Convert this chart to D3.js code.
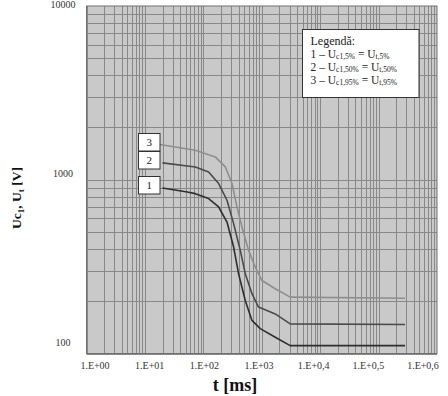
<!DOCTYPE html>
<html>
<head>
<meta charset="utf-8">
<script src="https://cdn.jsdelivr.net/npm/d3@7"></script>
<style>
  body { margin: 0; background: #fff; }
  text { font-family: "Liberation Serif", "DejaVu Serif", serif; }
</style>
</head>
<body>
<script>
// chart size
var w = 448;
var h = 396;

// DATA
var xTickLabels = ["1.E+00", "1.E+01", "1.E+02", "1.E+03", "1.E+0,4", "1.E+0,5", "1.E+0,6"];
var yTickValues = [100, 1000, 10000];

var t1 = [20, 53, 73, 123, 183, 254, 330, 401, 522, 680, 942, 1702, 3070, 284000];
var u1 = [897, 851, 832, 779, 697, 571, 410, 288, 202, 155, 139, 124, 111, 111];

var t2 = [20, 73, 123, 183, 254, 330, 429, 522, 680, 881, 1702, 3070, 284000];
var u2 = [1250, 1185, 1109, 951, 762, 559, 392, 288, 221, 185, 169, 148, 147];

var t3 = [18, 73, 160, 238, 310, 377, 459, 595, 774, 1007, 1702, 3070, 284000];
var u3 = [1595, 1479, 1353, 1185, 951, 697, 535, 392, 314, 263, 236, 211, 208];

var seriesNames = ["1", "2", "3"];
var legendTitle = "Legendă:";
var legendSubs = [["c1,5%", "t,5%"], ["c1,50%", "t,50%"], ["c1,95%", "t,95%"]];

// plot area ("top" is taken by window, so pTop etc.)
var pLeft = 86.5, pRight = 437, pTop = 6, pBottom = 353.5;

var svg = d3.select("body").append("svg")
  .attr("width", w)
  .attr("height", h);

var x = d3.scaleLog().domain([1, 1e6]).range([pLeft, pRight]);
var y = d3.scaleLog().domain([100, 10000]).range([pBottom, pTop]);

// background
svg.append("rect")
  .attr("x", pLeft).attr("y", pTop)
  .attr("width", pRight - pLeft).attr("height", pBottom - pTop)
  .attr("fill", "#c9c9c9");

// grid lines (1..9 per decade)
var xGrid = [];
for (var e = 0; e < 6; e++) {
  for (var k = 1; k < 10; k++) xGrid.push(k * Math.pow(10, e));
}
var yGrid = [];
for (var e2 = 2; e2 < 4; e2++) {
  for (var k2 = 1; k2 < 10; k2++) yGrid.push(k2 * Math.pow(10, e2));
}

svg.append("g").selectAll("line")
  .data(xGrid)
  .join("line")
  .attr("x1", function(d) { return Math.round(x(d)) + 0.5; })
  .attr("x2", function(d) { return Math.round(x(d)) + 0.5; })
  .attr("y1", pTop).attr("y2", pBottom)
  .attr("stroke", "#888")
  .attr("stroke-width", 1);

svg.append("g").selectAll("line")
  .data(yGrid)
  .join("line")
  .attr("y1", function(d) { return Math.round(y(d)) + 0.5; })
  .attr("y2", function(d) { return Math.round(y(d)) + 0.5; })
  .attr("x1", pLeft).attr("x2", pRight)
  .attr("stroke", "#888")
  .attr("stroke-width", 1);

// plot border
svg.append("rect")
  .attr("x", pLeft).attr("y", pTop)
  .attr("width", pRight - pLeft).attr("height", pBottom - pTop)
  .attr("fill", "none")
  .attr("stroke", "#707070");

// curves
var line = d3.line()
  .x(function(d) { return x(d[0]); })
  .y(function(d) { return y(d[1]); })
  .curve(d3.curveLinear);

var curves = [
  { t: t1, u: u1, color: "#2e2e2e" },
  { t: t2, u: u2, color: "#4a4a4a" },
  { t: t3, u: u3, color: "#8e8e8e" }
];

svg.append("g").selectAll("path")
  .data(curves)
  .join("path")
  .attr("d", function(c) { return line(d3.zip(c.t, c.u)); })
  .attr("fill", "none")
  .attr("stroke", function(c) { return c.color; })
  .attr("stroke-width", 1.6)
  .attr("stroke-linejoin", "round");

// number boxes at the start of each curve
var boxes = svg.append("g").selectAll("g")
  .data(curves)
  .join("g")
  .attr("transform", function(c) {
    return "translate(138.5," + (Math.round(y(c.u[0])) - 11.5) + ")";
  });
boxes.append("rect")
  .attr("width", 21.5).attr("height", 17.5)
  .attr("fill", "#fff")
  .attr("stroke", "#333");
boxes.append("text")
  .attr("x", 10.75).attr("y", 12.5)
  .attr("text-anchor", "middle")
  .attr("font-size", 11)
  .attr("fill", "#222")
  .text(function(c, i) { return seriesNames[i]; });

// x tick labels (spread a bit tighter than the grid, as in the original)
var xLab = d3.scalePoint().domain(xTickLabels).range([95, 423]);
svg.append("g").selectAll("text")
  .data(xTickLabels)
  .join("text")
  .attr("x", function(d) { return xLab(d); })
  .attr("y", 368.5)
  .attr("text-anchor", "middle")
  .attr("font-size", 10)
  .attr("fill", "#333")
  .text(function(d) { return d; });

// y tick labels
var yLab = d3.scaleLog().domain([100, 10000]).range([346, 8]);
svg.append("g").selectAll("text")
  .data(yTickValues)
  .join("text")
  .attr("x", 63)
  .attr("y", function(d) { return yLab(d); })
  .attr("text-anchor", "middle")
  .attr("font-size", 10)
  .attr("fill", "#333")
  .text(function(d) { return d; });

// axis titles
svg.append("text")
  .attr("x", 235).attr("y", 391)
  .attr("text-anchor", "middle")
  .attr("font-size", 18)
  .attr("font-weight", "bold")
  .attr("fill", "#111")
  .text("t [ms]");

var yt = svg.append("text")
  .attr("transform", "translate(21,198) rotate(-90)")
  .attr("text-anchor", "middle")
  .attr("font-size", 13.5)
  .attr("font-weight", "bold")
  .attr("fill", "#111");
yt.append("tspan").text("Uc");
yt.append("tspan").attr("font-size", 9).attr("dy", 3).text("1");
yt.append("tspan").attr("dy", -3).text(", U");
yt.append("tspan").attr("font-size", 9).attr("dy", 3).text("t");
yt.append("tspan").attr("dy", -3).text(" [V]");

// legend
var lg = svg.append("g").attr("transform", "translate(302.5,29.5)");
lg.append("rect")
  .attr("width", 116.5).attr("height", 68)
  .attr("fill", "#fff")
  .attr("stroke", "#333");
lg.append("text")
  .attr("x", 8).attr("y", 15)
  .attr("font-size", 12)
  .attr("fill", "#222")
  .text(legendTitle);
legendSubs.forEach(function(s, i) {
  var tx = lg.append("text")
    .attr("x", 8).attr("y", 28 + i * 13)
    .attr("font-size", 11.5)
    .attr("fill", "#222");
  tx.append("tspan").text(seriesNames[i] + " \u2013 U");
  tx.append("tspan").attr("font-size", 7.5).attr("dy", 1.5).text(s[0]);
  tx.append("tspan").attr("dy", -1.5).text(" = U");
  tx.append("tspan").attr("font-size", 7.5).attr("dy", 1.5).text(s[1]);
});
</script>
</body>
</html>
